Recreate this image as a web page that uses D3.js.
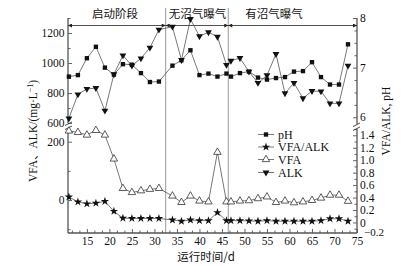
<!DOCTYPE html>
<html><head><meta charset="utf-8">
<script src="https://cdn.jsdelivr.net/npm/d3@7"></script>
<style>body{margin:0;background:#fff}svg{display:block}</style>
</head><body>
<svg id="c" width="403" height="266"></svg>
<script>
// ---- data ----
const days  = [11,13,15,17,19,21,23,25,27,29,31,34,36,38,40,42,44,46,47,49,51,53,55,57,59,61,63,65,67,69,71,73];
const pH    = [6.82,6.85,7.19,7.42,7.00,6.86,7.07,7.06,6.89,6.71,6.72,7.04,7.15,7.35,6.85,6.88,6.82,6.88,6.82,6.89,6.92,6.80,6.76,6.79,6.81,6.92,6.93,7.11,6.81,6.66,6.66,7.47];
const ALK   = [631,791,827,833,682,925,1051,982,1031,1102,1222,1242,1020,1293,1178,1205,1175,987,1015,1033,942,867,918,1060,798,867,765,813,811,731,731,982];
const VFA   = [237,232,223,239,223,141,40,26,32,37,40,14,-8,14,-3,-6,164,-6,-6,-3,-2,5,11,-8,-3,-9,-6,-1,7,17,17,-4];
const ratio = [0.41,0.33,0.30,0.31,0.34,0.18,0.07,0.065,0.065,0.065,0.065,0.04,0.02,0.04,0.03,0.03,0.16,0.03,0.03,0.03,0.025,0.02,0.03,0.02,0.02,0.02,0.02,0.02,0.03,0.06,0.06,0.02];
const xTicks = [15,20,25,30,35,40,45,50,55,60,65,70,75];
const alkTicks = [600,800,1000,1200];
const vfaTicks = [0,200];
const phTicks = [6,7,8];
const ratioTicks = [0,0.2,0.4,0.6,0.8,1.0,1.2,1.4];
const ratioBottomLabel = -0.2;
const phaseNames = ['启动阶段','无沼气曝气','有沼气曝气'];
const phaseBounds = [10.8,32.5,46.4,75];
const seriesNames = ['pH','VFA/ALK','VFA','ALK'];

// ---- setup ----
const svg = d3.select('#c');
const serif = '"Liberation Serif","Times New Roman",serif';
const cjk = '"Noto Sans CJK SC","Liberation Serif",sans-serif';
const L=68, R=357, T=18, B=233, U1=123, U2=128;

const x = d3.scaleLinear().domain([10.8,75]).range([L,R]);
const yALK = d3.scaleLinear().domain([600,1300]).range([U1,T]);
const ypH  = d3.scaleLinear().domain([5.885,8]).range([U1,T]);
const yVFA = d3.scaleLinear().domain([-113,247]).range([B,U2]);
const yRat = d3.scaleLinear().domain([-0.169,1.517]).range([B,U2]);

const axisCol = '#555';
const fmtD = d3.format('d');
function styleAxis(g, size){
  g.select('.domain').remove();
  g.selectAll('line').attr('stroke',axisCol).attr('stroke-width',0.9);
  g.selectAll('text').attr('font-family',serif).attr('font-size',size||11).attr('fill','#111');
}

// vertical phase lines
svg.append('g').selectAll('line').data(phaseBounds.slice(1,3)).join('line')
  .attr('x1',d=>x(d)).attr('x2',d=>x(d)).attr('y1',8).attr('y2',B)
  .attr('stroke','#999').attr('stroke-width',1);

// x axis
svg.append('g').attr('transform',`translate(0,${B})`)
  .call(d3.axisBottom(x).tickValues(xTicks).tickSizeInner(-4).tickSizeOuter(0).tickPadding(4).tickFormat(fmtD))
  .call(g=>styleAxis(g,11.5));
const xMinor=[];
xTicks.forEach(t=>{ [1/3,2/3].forEach(f=>{ xMinor.push(t-5*f); }); });
svg.append('g').attr('transform',`translate(0,${B})`)
  .call(d3.axisBottom(x).tickValues(xMinor.filter(v=>v>=10.8)).tickSizeInner(-2.5).tickSizeOuter(0).tickFormat(''))
  .call(g=>styleAxis(g));

// left axes
svg.append('g').attr('transform',`translate(${L},0)`)
  .call(d3.axisLeft(yALK).tickValues(alkTicks).tickSizeInner(-4).tickSizeOuter(0).tickPadding(3.5).tickFormat(fmtD))
  .call(g=>styleAxis(g,11.5));
svg.append('g').attr('transform',`translate(${L},0)`)
  .call(d3.axisLeft(yALK).tickValues([700,900,1100,1300]).tickSizeInner(-2.5).tickSizeOuter(0).tickFormat(''))
  .call(g=>styleAxis(g));
svg.append('g').attr('transform',`translate(${L},0)`)
  .call(d3.axisLeft(yVFA).tickValues(vfaTicks).tickSizeInner(-4).tickSizeOuter(0).tickPadding(3.5).tickFormat(fmtD))
  .call(g=>styleAxis(g,11.5));
svg.append('g').attr('transform',`translate(${L},0)`)
  .call(d3.axisLeft(yVFA).tickValues([-100,100]).tickSizeInner(-2.5).tickSizeOuter(0).tickFormat(''))
  .call(g=>styleAxis(g));

// right axes
svg.append('g').attr('transform',`translate(${R},0)`)
  .call(d3.axisRight(ypH).tickValues(phTicks).tickSizeInner(-4).tickSizeOuter(0).tickPadding(3).tickFormat(fmtD))
  .call(g=>styleAxis(g,11.5));
svg.append('g').attr('transform',`translate(${R},0)`)
  .call(d3.axisRight(ypH).tickValues([6.25,6.5,6.75,7.25,7.5,7.75]).tickSizeInner(-2.5).tickSizeOuter(0).tickFormat(''))
  .call(g=>styleAxis(g));
svg.append('g').attr('transform',`translate(${R},0)`)
  .call(d3.axisRight(yRat).tickValues(ratioTicks).tickSizeInner(-4).tickSizeOuter(0).tickPadding(3)
        .tickFormat(d=>d===0?'0':d3.format('.1f')(d)))
  .call(g=>styleAxis(g,11.5));
svg.append('g').attr('transform',`translate(${R},0)`)
  .call(d3.axisRight(yRat).tickValues([-0.1,0.1,0.3,0.5,0.7,0.9,1.1,1.3,1.5]).tickSizeInner(-2.5).tickSizeOuter(0).tickFormat(''))
  .call(g=>styleAxis(g));
// bottom label of the ratio axis, sitting just right of the last x label
svg.append('text').attr('x',R+7).attr('y',yRat(ratioBottomLabel)).attr('dy','0.1em')
  .attr('font-family',serif).attr('font-size',11).attr('fill','#111')
  .text(d3.format('.1f')(ratioBottomLabel).replace('-','−'));

// axis lines with breaks
const ax = svg.append('g').attr('stroke',axisCol).attr('stroke-width',1.3).attr('fill','none');
[[L,T,L,U1],[L,U2,L,B],[R,T,R,U1+1],[R,U2+1,R,B],[L,B,R,B]].forEach(s=>
  ax.append('line').attr('x1',s[0]).attr('y1',s[1]).attr('x2',s[2]).attr('y2',s[3]));
const br = svg.append('g').attr('stroke','#333').attr('stroke-width',0.9);
[[L-3,U1+2.5,L+4,U1-1],[L-3,U2+1.5,L+4,U2-2],[R-4,U1+3.5,R+3,U1],[R-4,U2+2.5,R+3,U2-1]].forEach(s=>
  br.append('line').attr('x1',s[0]).attr('y1',s[1]).attr('x2',s[2]).attr('y2',s[3]));

// phase arrows
const defs = svg.append('defs');
defs.append('marker').attr('id','ah').attr('viewBox','0 0 10 10').attr('refX',10).attr('refY',5)
  .attr('markerWidth',5).attr('markerHeight',4).attr('markerUnits','userSpaceOnUse').attr('orient','auto-start-reverse')
  .append('path').attr('d','M0,0L10,5L0,10Z').attr('fill','#222');
const yA = 25.5;
d3.range(3).forEach(i=>{
  svg.append('line').attr('x1',x(phaseBounds[i])).attr('x2',x(phaseBounds[i+1])).attr('y1',yA).attr('y2',yA)
    .attr('stroke','#222').attr('stroke-width',0.8)
    .attr('marker-start','url(#ah)').attr('marker-end','url(#ah)');
});
const labelX = [115,197.5,274];
svg.append('g').selectAll('text').data(phaseNames).join('text')
  .attr('x',(d,i)=>labelX[i]).attr('y',17.5).attr('text-anchor','middle')
  .attr('font-family',cjk).attr('font-size',11.5).attr('fill','#111').text(d=>d);

// series
const rows = days.map((d,i)=>({d,pH:pH[i],ALK:ALK[i],VFA:VFA[i],r:ratio[i]}));
const lineCol = '#555';
function drawLine(yfn){
  svg.append('path').datum(rows).attr('fill','none').attr('stroke',lineCol).attr('stroke-width',0.8)
    .attr('d',d3.line().x(r=>x(r.d)).y(yfn));
}
drawLine(r=>yALK(r.ALK));
drawLine(r=>ypH(r.pH));
drawLine(r=>yVFA(r.VFA));
drawLine(r=>yRat(r.r));

const sq = d3.symbol().type(d3.symbolSquare).size(19)();
const tri = d3.symbol().type(d3.symbolTriangle).size(20)();
const triO = d3.symbol().type(d3.symbolTriangle).size(24)();
const star = d3.symbol().type(d3.symbolStar).size(22)();

function marks(yfn, path, opts){
  svg.append('g').selectAll('path').data(rows).join('path')
    .attr('d',path)
    .attr('transform',r=>`translate(${x(r.d)},${yfn(r)})${opts.rot?' rotate(180)':''}`)
    .attr('fill',opts.fill).attr('stroke',opts.stroke||'none').attr('stroke-width',opts.sw||0);
}
marks(r=>yALK(r.ALK), tri, {fill:'#111', rot:true});
marks(r=>ypH(r.pH), sq, {fill:'#111'});
marks(r=>yVFA(r.VFA), triO, {fill:'#fff', stroke:'#333', sw:0.8});
marks(r=>yRat(r.r), star, {fill:'#111'});

// legend
const legY = [134.5,147,159.5,172.5];
const legSym = [[sq,'#111',null,false],[star,'#111',null,false],[triO,'#fff','#333',false],[tri,'#111',null,true]];
const lg = svg.append('g');
seriesNames.forEach((n,i)=>{
  lg.append('line').attr('x1',258).attr('x2',274).attr('y1',legY[i]).attr('y2',legY[i]).attr('stroke',lineCol).attr('stroke-width',0.8);
  lg.append('path').attr('d',legSym[i][0]).attr('transform',`translate(266,${legY[i]})${legSym[i][3]?' rotate(180)':''}`)
    .attr('fill',legSym[i][1]).attr('stroke',legSym[i][2]||'none').attr('stroke-width',0.8);
  lg.append('text').attr('x',278).attr('y',legY[i]).attr('dy','0.35em')
    .attr('font-family',serif).attr('font-size',12).attr('fill','#111').text(n);
});

// axis titles
const lt = svg.append('text').attr('transform','translate(37,131) rotate(-90)').attr('text-anchor','middle')
  .attr('font-family',serif).attr('font-size',11.5).attr('fill','#111');
lt.append('tspan').text('VFA');
lt.append('tspan').attr('font-family',cjk).text('、');
lt.append('tspan').text('ALK/(mg·L');
lt.append('tspan').attr('font-size',8).attr('dy',-4).text('−1');
lt.append('tspan').attr('dy',4).text(')');

svg.append('text').attr('transform','translate(390,121) rotate(-90)').attr('text-anchor','middle')
  .attr('font-family',serif).attr('font-size',11.5).attr('fill','#111').text('VFA/ALK, pH');

svg.append('text').attr('x',206).attr('y',261).attr('text-anchor','middle')
  .attr('font-family',cjk).attr('font-size',11.5).attr('fill','#111')
  .text('运行时间/d');
</script>
</body></html>
